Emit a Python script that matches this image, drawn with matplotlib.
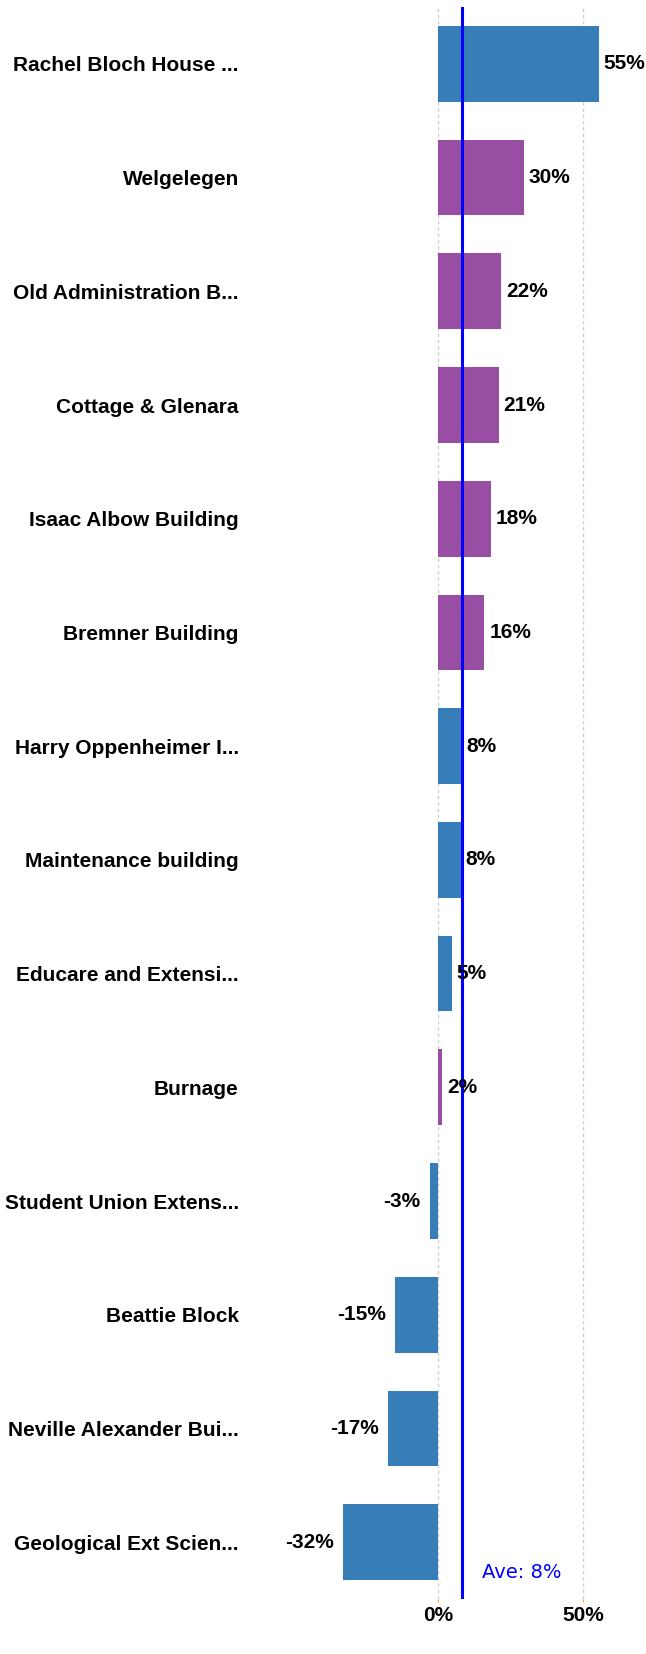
import matplotlib
matplotlib.use("Agg")
import matplotlib.pyplot as plt

# data (share of change per building, %)
buildings = ["Rachel Bloch House ...", "Welgelegen", "Old Administration B...",
             "Cottage & Glenara", "Isaac Albow Building", "Bremner Building",
             "Harry Oppenheimer I...", "Maintenance building", "Educare and Extensi...",
             "Burnage", "Student Union Extens...", "Beattie Block",
             "Neville Alexander Bui...", "Geological Ext Scien..."]
values = [55.4, 29.6, 21.7, 20.9, 18.2, 16.0, 8.1, 8.0, 4.8, 1.6, -2.8, -14.8, -17.2, -32.4]
groups = ["b", "p", "p", "p", "p", "p", "b", "b", "b", "p", "b", "b", "b", "b"]
average = 8.4
ticks = [0, 50]

palette = {"b": "#377eb8", "p": "#984ea3"}

W, H = 646, 1654
fig = plt.figure(figsize=(W / 100, H / 100), dpi=100)
ax = fig.add_axes([245 / W, (H - 1599) / H, (W - 245) / W, 1592 / H])

bold = dict(family="Liberation Sans", weight="bold", size=15)

ypos = list(range(len(buildings)))
ax.barh(ypos, values, height=0.665, color=[palette[g] for g in groups], zorder=2)

for y, v in zip(ypos, values):
    if v >= 0:
        ax.annotate("{}%".format(round(v)), (v, y), xytext=(3.5, 0), textcoords="offset points",
                    ha="left", va="center", zorder=4, **bold)
    else:
        ax.annotate("{}%".format(round(v)), (v, y), xytext=(-6.5, 0), textcoords="offset points",
                    ha="right", va="center", zorder=4, **bold)

for t in ticks:
    ax.axvline(t, color="#d0d0d0", linestyle=(0, (2.5, 2)), linewidth=1, zorder=1)

ax.axvline(average, color="#0000ff", linewidth=2.2, zorder=3)
ax.annotate("Ave: {}%".format(round(average)), (average, 0), xycoords=("data", "axes fraction"),
            xytext=(14, 15), textcoords="offset points", ha="left", va="baseline",
            color="#0000ff", family="DejaVu Sans", size=14)

ax.set_xlim((245 - 437.7) / 2.912, (646 - 437.7) / 2.912)
ax.set_ylim(13.5, -0.5)
ax.set_yticks(ypos)
ax.set_yticklabels(buildings, **bold)
ax.set_xticks(ticks)
ax.set_xticklabels(["{}%".format(t) for t in ticks], **bold)
ax.tick_params(axis="y", length=0, pad=4.5)
ax.tick_params(axis="x", length=2, color="#f5a040", pad=3)
for s in ax.spines.values():
    s.set_visible(False)

fig.savefig("out.png", dpi=100, facecolor="white")
